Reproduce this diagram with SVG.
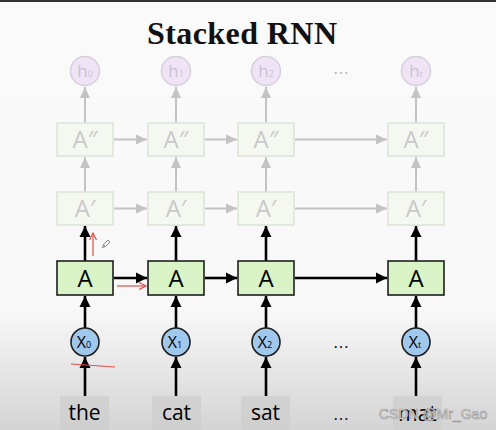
<svg xmlns="http://www.w3.org/2000/svg" width="496" height="430" viewBox="0 0 496 430">
<defs>
<linearGradient id="bg" x1="0" y1="0" x2="0" y2="1">
<stop offset="0" stop-color="#fafafa"/>
<stop offset="0.72" stop-color="#f8f8f8"/>
<stop offset="1" stop-color="#d4d4d4"/>
</linearGradient>
<marker id="ab" markerUnits="userSpaceOnUse" markerWidth="12" markerHeight="12" viewBox="0 0 12 12" refX="11" refY="6" orient="auto"><path d="M0,0.5 L11,6 L0,11.5 Z" fill="#000"/></marker>
<marker id="ag" markerUnits="userSpaceOnUse" markerWidth="12" markerHeight="12" viewBox="0 0 12 12" refX="11" refY="6" orient="auto"><path d="M0,1 L11,6 L0,11 Z" fill="#c3c3c3"/></marker>
<marker id="ar" markerUnits="userSpaceOnUse" markerWidth="8" markerHeight="8" viewBox="0 0 8 8" refX="7" refY="4" orient="auto"><path d="M0,0.5 L7,4 L0,7.5" fill="none" stroke="#e0504c" stroke-width="1.2"/></marker>
</defs>
<style>
.hc{fill:#efe4f5;stroke:#d8cfdd;stroke-width:1.5}
.ht{font-family:"Open Sans","DejaVu Sans",sans-serif;font-size:17px;fill:#c9c2cd;text-anchor:middle}
.fb{fill:#f4f8f1;stroke:#dbe3d6;stroke-width:1.5}
.ft{font-family:"Open Sans","DejaVu Sans",sans-serif;font-size:24px;fill:#c9c9c9;text-anchor:middle}
.gb{fill:#d8f3c5;stroke:#1e1e1e;stroke-width:1.6}
.gt{font-family:"Open Sans","DejaVu Sans",sans-serif;font-size:24px;fill:#000;text-anchor:middle}
.xc{fill:#a0c8ec;stroke:#1e1e1e;stroke-width:1.6}
.xt{font-family:"Open Sans","DejaVu Sans",sans-serif;font-size:16px;fill:#000;text-anchor:middle}
.wb{fill:#cdcdcd;fill-opacity:0.75}
.wt{font-family:"Open Sans","DejaVu Sans",sans-serif;font-size:21px;fill:#000;text-anchor:middle}
.lg{stroke:#c3c3c3;stroke-width:2;fill:none;marker-end:url(#ag)}
.lb{stroke:#000;stroke-width:2.6;fill:none;marker-end:url(#ab)}
.lr{stroke:#e0504c;stroke-width:1.2;fill:none}
.dots{font-family:"DejaVu Sans",sans-serif;font-size:16px;text-anchor:middle}
</style>
<rect width="496" height="430" fill="url(#bg)"/>
<rect width="496" height="2" fill="#333"/>
<text x="242" y="44" text-anchor="middle" font-family="Liberation Serif,serif" font-weight="bold" font-size="32" textLength="190" fill="#111">Stacked RNN</text>

<g id="connectors">
<line class="lg" x1="85" y1="123" x2="85" y2="87"/>
<line class="lg" x1="176" y1="123" x2="176" y2="87"/>
<line class="lg" x1="266" y1="123" x2="266" y2="87"/>
<line class="lg" x1="416" y1="123" x2="416" y2="87"/>
<line class="lg" x1="85" y1="192" x2="85" y2="157"/>
<line class="lg" x1="176" y1="192" x2="176" y2="157"/>
<line class="lg" x1="266" y1="192" x2="266" y2="157"/>
<line class="lg" x1="416" y1="192" x2="416" y2="157"/>
<line class="lg" x1="114" y1="139.5" x2="147" y2="139.5"/>
<line class="lg" x1="205" y1="139.5" x2="237" y2="139.5"/>
<line class="lg" x1="295" y1="139.5" x2="387" y2="139.5"/>
<line class="lg" x1="114" y1="208.5" x2="147" y2="208.5"/>
<line class="lg" x1="205" y1="208.5" x2="237" y2="208.5"/>
<line class="lg" x1="295" y1="208.5" x2="387" y2="208.5"/>
<line class="lb" x1="85" y1="261" x2="85" y2="226"/>
<line class="lb" x1="176" y1="261" x2="176" y2="226"/>
<line class="lb" x1="266" y1="261" x2="266" y2="226"/>
<line class="lb" x1="416" y1="261" x2="416" y2="226"/>
<line class="lb" x1="114" y1="278" x2="147" y2="278"/>
<line class="lb" x1="205" y1="278" x2="237" y2="278"/>
<line class="lb" x1="295" y1="278" x2="387" y2="278"/>
<line class="lb" x1="85" y1="328" x2="85" y2="296"/>
<line class="lb" x1="176" y1="328" x2="176" y2="296"/>
<line class="lb" x1="266" y1="328" x2="266" y2="296"/>
<line class="lb" x1="416" y1="328" x2="416" y2="296"/>
<line class="lb" x1="85" y1="396" x2="85" y2="357"/>
<line class="lb" x1="176" y1="396" x2="176" y2="357"/>
<line class="lb" x1="266" y1="396" x2="266" y2="357"/>
<line class="lb" x1="416" y1="396" x2="416" y2="357"/>
</g>

<g id="h0"><circle class="hc" cx="85" cy="71" r="14.5"/><text class="ht" x="85" y="77">h<tspan font-size="9">0</tspan></text></g>
<g id="h1"><circle class="hc" cx="176" cy="71" r="14.5"/><text class="ht" x="176" y="77">h<tspan font-size="9">1</tspan></text></g>
<g id="h2"><circle class="hc" cx="266" cy="71" r="14.5"/><text class="ht" x="266" y="77">h<tspan font-size="9">2</tspan></text></g>
<g id="ht"><circle class="hc" cx="416" cy="71" r="14.5"/><text class="ht" x="416" y="77">h<tspan font-size="9">t</tspan></text></g>
<text class="dots" x="341" y="74" fill="#b8b8b8">…</text>

<g id="A2_0"><rect class="fb" x="57" y="123" width="56" height="33"/><text class="ft" x="85" y="148">A″</text></g>
<g id="A2_1"><rect class="fb" x="148" y="123" width="56" height="33"/><text class="ft" x="176" y="148">A″</text></g>
<g id="A2_2"><rect class="fb" x="238" y="123" width="56" height="33"/><text class="ft" x="266" y="148">A″</text></g>
<g id="A2_t"><rect class="fb" x="388" y="123" width="56" height="33"/><text class="ft" x="416" y="148">A″</text></g>

<g id="A1_0"><rect class="fb" x="57" y="192" width="56" height="33"/><text class="ft" x="85" y="217">A′</text></g>
<g id="A1_1"><rect class="fb" x="148" y="192" width="56" height="33"/><text class="ft" x="176" y="217">A′</text></g>
<g id="A1_2"><rect class="fb" x="238" y="192" width="56" height="33"/><text class="ft" x="266" y="217">A′</text></g>
<g id="A1_t"><rect class="fb" x="388" y="192" width="56" height="33"/><text class="ft" x="416" y="217">A′</text></g>

<g id="A_0"><rect class="gb" x="57" y="261" width="56" height="34"/><text class="gt" x="85" y="286.5">A</text></g>
<g id="A_1"><rect class="gb" x="148" y="261" width="56" height="34"/><text class="gt" x="176" y="286.5">A</text></g>
<g id="A_2"><rect class="gb" x="238" y="261" width="56" height="34"/><text class="gt" x="266" y="286.5">A</text></g>
<g id="A_t"><rect class="gb" x="388" y="261" width="56" height="34"/><text class="gt" x="416" y="286.5">A</text></g>

<g id="x0"><circle class="xc" cx="85" cy="342" r="14"/><text class="xt" x="84" y="348">X<tspan font-size="9">0</tspan></text></g>
<g id="x1"><circle class="xc" cx="176" cy="342" r="14"/><text class="xt" x="175" y="348">X<tspan font-size="9">1</tspan></text></g>
<g id="x2"><circle class="xc" cx="266" cy="342" r="14"/><text class="xt" x="265" y="348">X<tspan font-size="9">2</tspan></text></g>
<g id="xt"><circle class="xc" cx="416" cy="342" r="14"/><text class="xt" x="415" y="348">X<tspan font-size="9">t</tspan></text></g>
<text class="dots" x="341" y="348" fill="#222">…</text>

<g id="w_the"><rect class="wb" x="60" y="396" width="49" height="40"/><text class="wt" x="84.5" y="420">the</text></g>
<g id="w_cat"><rect class="wb" x="152" y="396" width="49" height="40"/><text class="wt" x="176.5" y="420">cat</text></g>
<g id="w_sat"><rect class="wb" x="241" y="396" width="49" height="40"/><text class="wt" x="265.5" y="420">sat</text></g>
<g id="w_mat"><rect class="wb" x="393" y="396" width="49" height="40"/><text class="wt" x="417.5" y="421">mat</text></g>
<text class="dots" x="341" y="420" fill="#222" font-size="20">…</text>

<g id="annotations">
<line class="lr" x1="93" y1="256" x2="93" y2="233" marker-end="url(#ar)"/>
<line class="lr" x1="117" y1="286" x2="146" y2="286" marker-end="url(#ar)"/>
<line class="lr" x1="71" y1="364" x2="115" y2="367"/>
<path d="M103.5,244.5 L108,240 L110,242 L105.5,246.5 Z M103.5,244.5 L102.5,247.5 L105.5,246.5" fill="none" stroke="#777" stroke-width="0.9"/>
</g>
<text x="433" y="419" text-anchor="middle" font-family="Liberation Sans,Arial,sans-serif" font-size="14" fill="#f4f4f4" stroke="#9a9a9a" stroke-width="0.7">CSDN @Mr_Gao</text>
</svg>
